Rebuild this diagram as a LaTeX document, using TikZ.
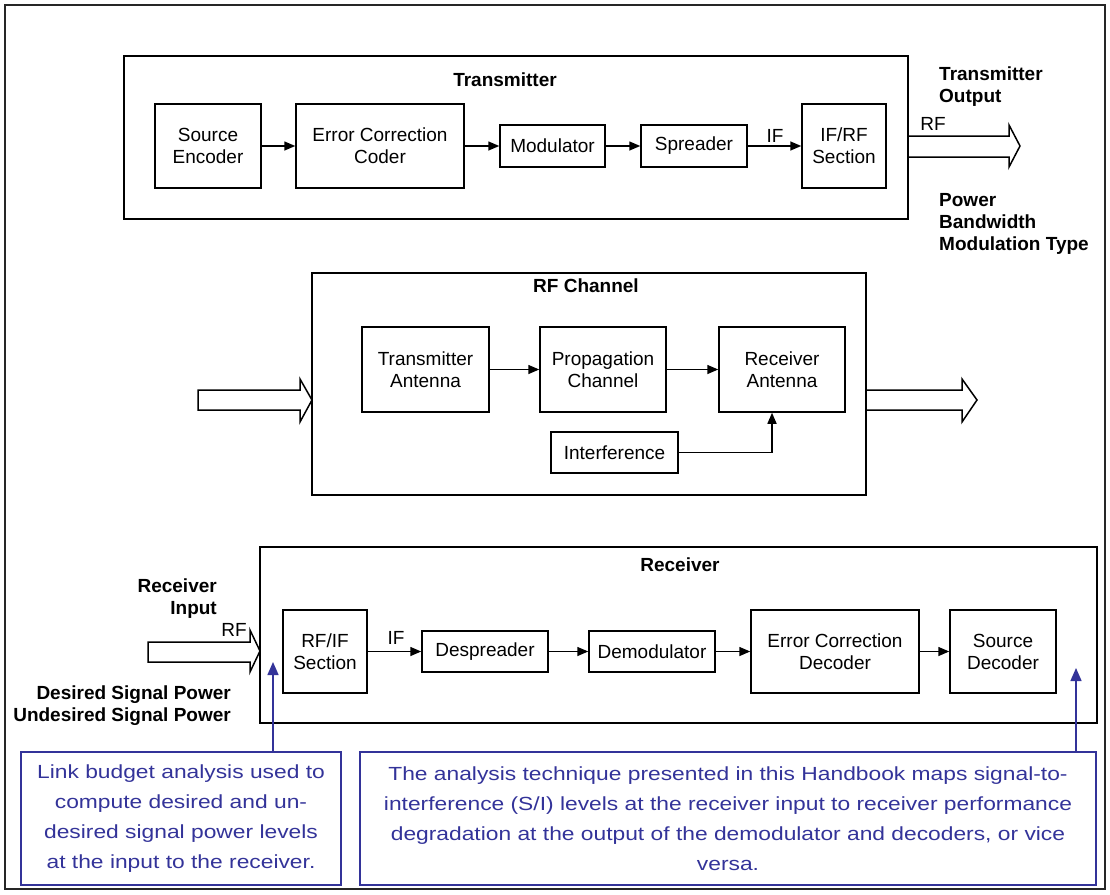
\documentclass[tikz,border=0pt]{standalone}
\usepackage{fontspec}
\setmainfont{Liberation Sans}
\newfontfamily\bluefont[FakeStretch=1.2]{Liberation Sans}
\usetikzlibrary{arrows.meta}
\definecolor{bl}{RGB}{51,51,153}
\begin{document}
\begin{tikzpicture}[x=1pt,y=-1pt,
  box/.style={draw, line width=1.5pt, inner sep=0pt, align=center, font=\fontsize{19}{22}\selectfont},
  frame/.style={draw, line width=1.5pt, inner sep=0pt},
  lab/.style={font=\fontsize{19}{22}\selectfont, inner sep=0pt},
  ttl/.style={font=\bfseries\fontsize{19}{22}\selectfont, inner sep=0pt},
  blab/.style={font=\bfseries\fontsize{19}{22}\selectfont, inner sep=0pt},
  arr/.style={line width=1.5pt, -{Triangle[length=11pt,width=9pt]}},
  fat/.style={line width=1.5pt, line join=miter},
  note/.style={draw=bl, line width=1.5pt, text=bl, align=center, inner sep=0pt, font=\bluefont\fontsize{19}{30}\selectfont},
  barr/.style={draw=bl, line width=1.5pt, -{Triangle[length=13pt,width=11pt]}}
]
\useasboundingbox (0,0) rectangle (1110,894);
\draw[black!85, line width=1.5pt] (5,5) rectangle (1105,889);

% Transmitter
\node[frame, minimum width=784pt, minimum height=163pt] (tx) at (516,137.5) {};
\node[ttl] (txt) at (505,80) {Transmitter};
\node[box, minimum width=106pt, minimum height=84pt] (se) at (208,146) {Source\\Encoder};
\node[box, minimum width=168pt, minimum height=84pt] (ecc) at (380,146) {Error Correction\\Coder};
\node[box, minimum width=105pt, minimum height=42pt] (mod) at (552.5,146) {Modulator};
\node[box, minimum width=106pt, minimum height=42pt] (spr) at (694,146) {Spreader};
\node[box, minimum width=84pt, minimum height=84pt] (ifrf) at (844,146) {IF/RF\\Section};
\draw[arr] (se) -- (ecc);
\draw[arr] (ecc) -- (mod);
\draw[arr] (mod) -- (spr);
\draw[arr] (spr) -- (ifrf);
\node[lab] (iflab) at (775,136) {IF};
\draw[fat] (908,136) -- (1009,136) -- (1009,125) -- (1020,146) -- (1009,167) -- (1009,157) -- (908,157);
\node[lab] (rflab) at (933,124) {RF};
\node[blab, align=left, anchor=west] (txo) at (939,87) {Transmitter\\Output};
\node[blab, align=left, anchor=west] (pbm) at (939,224) {Power\\Bandwidth\\Modulation Type};

% RF Channel
\node[frame, minimum width=554pt, minimum height=222pt] (ch) at (589,384) {};
\node[ttl] (cht) at (586,286) {RF Channel};
\node[box, minimum width=127pt, minimum height=85pt] (ta) at (425.5,369.5) {Transmitter\\Antenna};
\node[box, minimum width=126pt, minimum height=85pt] (pc) at (603,369.5) {Propagation\\Channel};
\node[box, minimum width=126pt, minimum height=85pt] (ra) at (782,369.5) {Receiver\\Antenna};
\node[box, minimum width=127pt, minimum height=41pt] (intf) at (614.5,452.5) {Interference};
\draw[arr] (ta) -- (pc);
\draw[arr] (pc) -- (ra);
\draw[arr] (intf.east) -| ([xshift=-10pt]ra.south);
\draw[fat] (300,390) -- (198,390) -- (198,410) -- (300,410) -- (300,422) -- (312,400) -- (300,379) -- cycle;
\draw[fat] (866,390) -- (962,390) -- (962,379) -- (977,400) -- (962,422) -- (962,410) -- (866,410);

% Receiver
\node[frame, minimum width=837pt, minimum height=176pt] (rx) at (678.5,635) {};
\node[ttl] (rxt) at (680,565) {Receiver};
\node[box, minimum width=84pt, minimum height=83pt] (rfif) at (325,651.5) {RF/IF\\Section};
\node[box, minimum width=126pt, minimum height=41pt] (desp) at (485,651.5) {Despreader};
\node[box, minimum width=126pt, minimum height=41pt] (demod) at (652,651.5) {Demodulator};
\node[box, minimum width=168pt, minimum height=83pt] (ecd) at (835,651.5) {Error Correction\\Decoder};
\node[box, minimum width=106pt, minimum height=83pt] (sd) at (1003,651.5) {Source\\Decoder};
\draw[arr] (rfif) -- (desp);
\draw[arr] (desp) -- (demod);
\draw[arr] (demod) -- (ecd);
\draw[arr] (ecd) -- (sd);
\node[lab] (iflab2) at (396,638) {IF};
\draw[fat] (250,642) -- (148,642) -- (148,662) -- (250,662) -- (250,672) -- (260,651) -- (250,630) -- cycle;
\node[lab] (rflab2) at (234,630) {RF};
\node[blab, align=right, anchor=east] (rxi) at (217,599) {Receiver\\Input};
\node[blab, align=right, anchor=east] (dsp) at (231,706) {Desired Signal Power\\Undesired Signal Power};

% Notes
\node[note, minimum width=320pt, minimum height=133pt] (lb) at (181,818.5)
  {Link budget analysis used to\\compute desired and un-\\desired signal power levels\\at the input to the receiver.};
\node[note, minimum width=736pt, minimum height=133pt] (rb) at (728,818.5)
  {The analysis technique presented in this Handbook maps signal-to-\\interference (S/I) levels at the receiver input to receiver performance\\degradation at the output of the demodulator and decoders, or vice\\versa.};
\coordinate (t1) at (273,662);
\coordinate (t2) at (1076,668);
\draw[barr] (t1 |- lb.north) -- (t1);
\draw[barr] (t2 |- rb.north) -- (t2);
\end{tikzpicture}
\end{document}
